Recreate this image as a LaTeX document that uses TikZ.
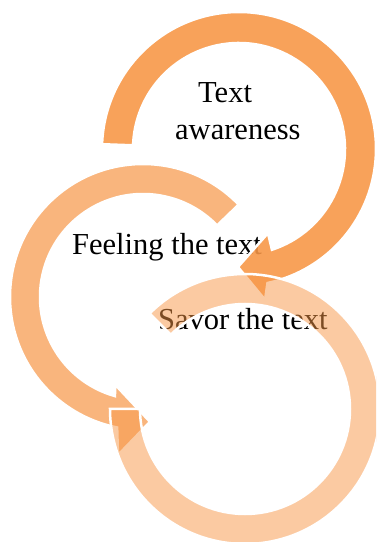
\documentclass[tikz,border=0pt]{standalone}
\usepackage{fontspec}
\setmainfont{Liberation Serif}
\definecolor{ringorange}{RGB}{247,150,70}
\tikzset{
    every node/.style={font=\fontsize{30.5}{37}\selectfont, inner sep=0pt},
    ring/.style={fill=ringorange, draw=white, line width=2.5pt}
}

\begin{document}
\begin{tikzpicture}[x=1pt,y=1pt]
    \useasboundingbox (0,0) rectangle (376,542);
    \clip (0,0) rectangle (376,542);
    \coordinate (c1) at (239,393);
    \coordinate (c2) at (143,245);
    \coordinate (c3) at (245,133);

    \node[anchor=north west, align=left] (aware) at (175,460) {\hspace*{23pt}Text\\awareness};
    \node[anchor=base west] (feel) at (72,287) {Feeling the text};
    \node[anchor=base west] (savor) at (158,212) {Savor the text};

    \draw[ring, fill opacity=.89, shift={(c1)}] (178:137) arc[start angle=178, end angle=-78, radius=137]
        -- (-80.2:153) -- (-90.5:118) -- (-71:89) -- (-71.9:106)
        arc[start angle=-71.9, end angle=178, radius=106] -- cycle;
    \draw[ring, fill opacity=.7, shift={(c2)}] (44:133) arc[start angle=44, end angle=258.8, radius=133]
        -- (261:160) -- (273.2:125) -- (252.4:92) -- (254.2:103)
        arc[start angle=254.2, end angle=44, radius=103] -- cycle;
    \draw[ring, fill opacity=.5, shift={(c3)}] (135:135) arc[start angle=135, end angle=-180, radius=135]
        -- (180:105) arc[start angle=-180, end angle=135, radius=105] -- cycle;
\end{tikzpicture}
\end{document}
